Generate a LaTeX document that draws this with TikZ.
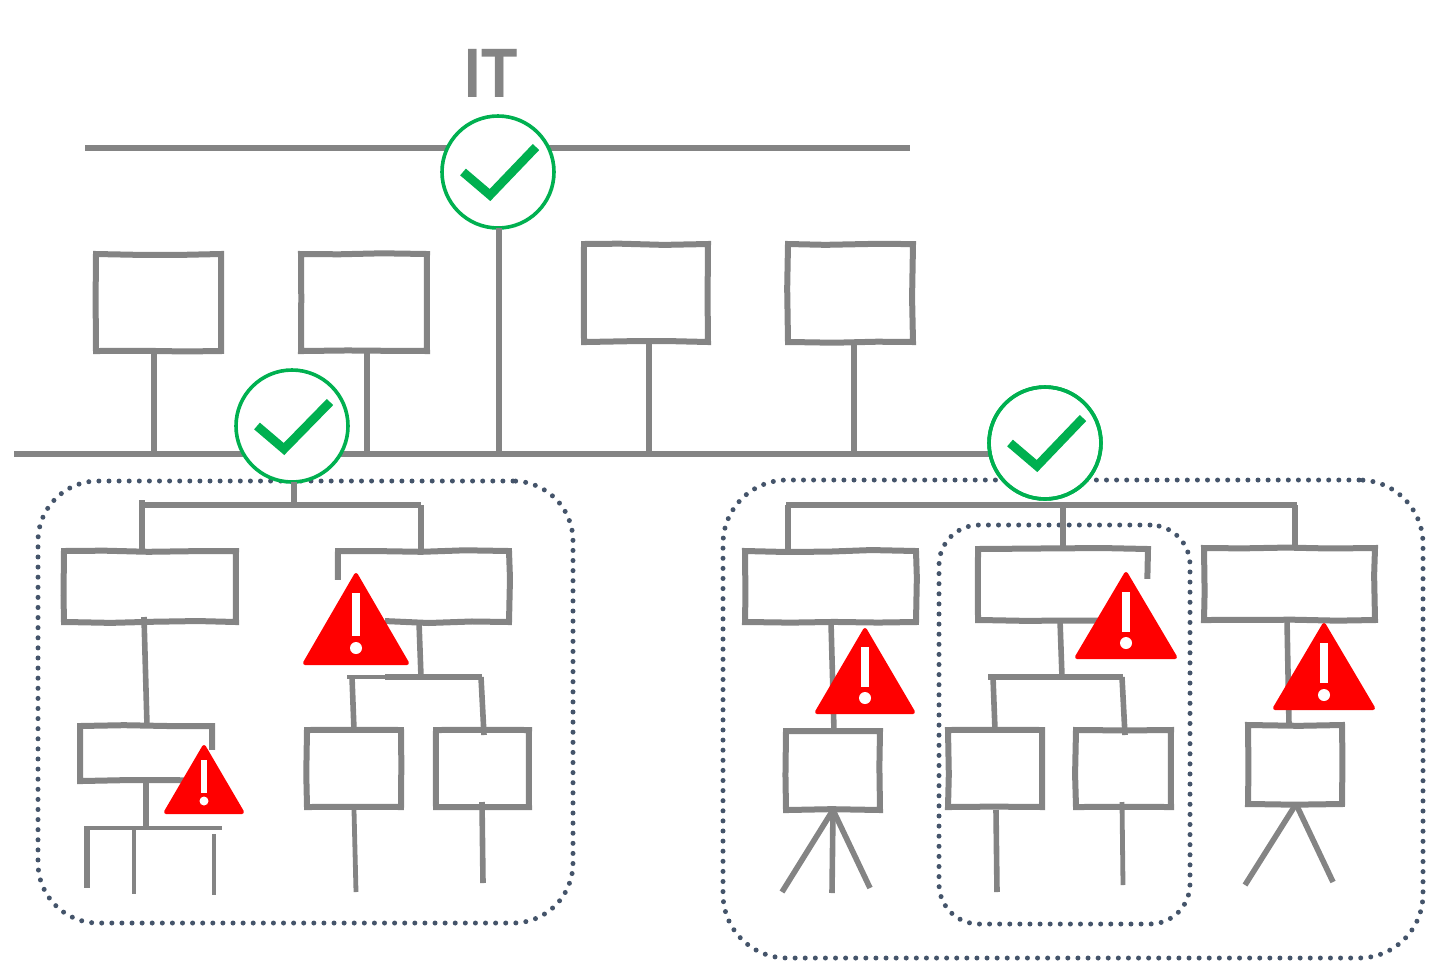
\documentclass[tikz,border=0pt]{standalone}
\usepackage{fontspec}
\setmainfont{Liberation Sans}
\usetikzlibrary{decorations.pathmorphing}
\definecolor{wiregray}{HTML}{848484}
\definecolor{okgreen}{HTML}{00B050}
\definecolor{dotblue}{HTML}{44546A}
\tikzset{
  wire/.style={draw=wiregray,line width=2.8pt},
  thinwire/.style={draw=wiregray,line width=2.4pt},
  thickwire/.style={draw=wiregray,line width=3.4pt},
  boxn/.style={draw=wiregray,line width=3pt,fill=white,inner sep=0pt,outer sep=0pt,
    decorate,decoration={random steps,segment length=22pt,amplitude=0.5pt,pre length=1pt,post length=1pt}},
  dotbox/.style={draw=dotblue,line width=2.5pt,dash pattern=on 0pt off 5.05pt,line cap=round,inner sep=0pt,outer sep=0pt},
  okcirc/.style={circle,draw=okgreen,fill=white,line width=1.8pt,minimum size=56pt,inner sep=0pt,outer sep=0pt},
  okmark/.style={draw=okgreen,line width=4.4pt,line join=miter},
  warnfill/.style={fill=red,draw=red,line width=2pt,line join=round},
  patch/.style={fill=white,draw=none}
}
\newcommand{\hbx}[5]{\node[boxn,minimum width={(#4-#2)*0.5pt},minimum height={(#5-#3)*0.5pt}] (#1) at ({(#2+#4)/2},{(#3+#5)/2}) {};}
\newcommand{\dbx}[6]{\node[dotbox,rounded corners=#6pt,minimum width={(#4-#2)*0.5pt},minimum height={(#5-#3)*0.5pt}] (#1) at ({(#2+#4)/2},{(#3+#5)/2}) {};}
% apex x, apex y, half base, base y, bar top, bar bottom, dot y, bar half width, dot radius
\newcommand{\warnsign}[9]{%
  \filldraw[warnfill] (#1,#2+3) -- (#1+#3-2,#4-2) -- (#1-#3+2,#4-2) -- cycle;
  \fill[white] (#1-#8,#5) rectangle (#1+#8,#6);
  \fill[white] (#1,#7) circle (#9);
}
\begin{document}
\begin{tikzpicture}[x=0.5pt,y=-0.5pt]
\pgfmathsetseed{7}
\useasboundingbox (0,0) rectangle (1440,960);
% IT label
\node[text=wiregray,font=\bfseries\fontsize{35}{35}\selectfont,xscale=0.85,inner sep=0pt] (it) at (491,73) {IT};
% buses
\coordinate (tl) at (85,148); \coordinate (tr) at (910,148);
\coordinate (bl) at (14,454); \coordinate (br) at (1000,454);
\draw[wire] (tl) -- (tr);
\draw[wire] (bl) -- (br);
% upper boxes
\hbx{A}{96}{254}{221}{351}
\hbx{B}{301}{254}{427}{351}
\hbx{C}{584}{244}{708}{342}
\hbx{D}{788}{244}{913}{342}
\coordinate (ja) at (154,454); \coordinate (jb) at (367,454);
\coordinate (jc) at (649,454); \coordinate (jd) at (854,454);
\draw[wire] (A.south -| ja) -- (ja);
\draw[wire] (B.south -| jb) -- (jb);
\draw[wire] (C.south -| jc) -- (jc);
\draw[wire] (D.south -| jd) -- (jd);
% dotted groups
\dbx{G1}{38}{481}{573}{923}{30}
\dbx{G2}{723}{480}{1423}{958}{32}
\dbx{G3}{939}{525}{1190}{924}{20}
% circles
\node[okcirc] (c1) at (498,172) {};
\node[okcirc] (c2) at (292,426) {};
\node[okcirc] (c3) at (1045,443) {};
\coordinate (cs) at (499,454);
\draw[wire] (c1.south -| cs) -- (cs);
% left group
\coordinate (l1) at (142,505); \coordinate (l2) at (421,505); \coordinate (l0) at (294,505);
\draw[wire] (c2.south -| l0) -- (l0);
\draw[thickwire] ([xshift=-1pt]l1) -- (l2);
\hbx{E}{64}{551}{236}{622}
\hbx{F}{338}{551}{509}{622}
\coordinate (l1t) at (142,500);
\draw[wire] (l1t) -- (l1t |- E.north);
\draw[wire] (l2) -- (l2 |- F.north);
\coordinate (e1) at (144,617); \coordinate (e2) at (147,726);
\hbx{Gb}{80}{726}{212}{781}
\draw[wire] (e1) -- (e2);
\coordinate (g1) at (146,781); \coordinate (g2) at (146,828);
\draw[wire] (g1) -- (g2);
\coordinate (gl) at (84,828); \coordinate (gr) at (222,828);
\draw[thinwire] (gl) -- (gr);
\coordinate (g3) at (87,888); \coordinate (g4) at (134,894); \coordinate (g5a) at (214,834); \coordinate (g5) at (214,895);
\draw[wire] (gl -| g3) -- (g3);
\draw[thinwire] (gl -| g4) -- (g4);
\draw[thinwire] (g5a) -- (g5);
\coordinate (f1) at (419,622); \coordinate (f2) at (421,677);
\draw[wire] (f1) -- (f2);
\coordinate (fl) at (347,677); \coordinate (fm) at (385,677); \coordinate (fr) at (482,677);
\coordinate (h1) at (352,677); \coordinate (h2) at (354,730);
\coordinate (i1) at (481,677); \coordinate (i2) at (484,735);
\hbx{H}{307}{730}{401}{807}
\hbx{I}{436}{730}{529}{807}
\draw[wire] (h1) -- (h2);
\draw[wire] (i1) -- (i2);
\coordinate (h3) at (354,810); \coordinate (h4) at (356,892);
\coordinate (i3) at (482,802); \coordinate (i4) at (483,883);
\draw[thinwire] (h3) -- (h4);
\draw[wire] (i3) -- (i4);
% right group
\coordinate (r1) at (788,505); \coordinate (r2) at (1063,505); \coordinate (r3) at (1295,505);
\draw[thickwire] ([xshift=-1pt]r1) -- ([xshift=1pt]r3);
\hbx{J}{745}{551}{916}{622}
\hbx{K}{978}{549}{1148}{620}
\hbx{L}{1204}{548}{1375}{620}
\draw[wire] (r1) -- (r1 |- J.north);
\draw[wire] (r2) -- (r2 |- K.north);
\draw[wire] (r3) -- (r3 |- L.north);
\hbx{O}{786}{731}{880}{810}
\coordinate (j1) at (831,622); \coordinate (j2) at (834,731);
\draw[wire] (j1) -- (j2);
\coordinate (o0) at (833,810); \coordinate (o1) at (782,892); \coordinate (o2) at (832,893); \coordinate (o3) at (870,888);
\draw[wire] (o0) -- (o1); \draw[wire] (o0) -- (o2); \draw[wire] (o0) -- (o3);
\coordinate (k1) at (1060,620); \coordinate (k2) at (1062,677);
\draw[wire] (k1) -- (k2);
\coordinate (kl) at (988,677); \coordinate (kr) at (1123,677);
\hbx{M}{948}{730}{1042}{807}
\hbx{N}{1076}{730}{1171}{807}
\coordinate (m1) at (993,677); \coordinate (m2) at (995,730);
\coordinate (n1) at (1122,677); \coordinate (n2) at (1125,735);
\draw[wire] (m1) -- (m2); \draw[wire] (n1) -- (n2);
\coordinate (m3) at (996,810); \coordinate (m4) at (997,892);
\coordinate (n3) at (1122,802); \coordinate (n4) at (1123,885);
\draw[wire] (m3) -- (m4); \draw[thinwire] (n3) -- (n4);
\hbx{P}{1248}{725}{1342}{804}
\coordinate (q1) at (1287,620); \coordinate (q2) at (1289,725);
\draw[wire] (q1) -- (q2);
\coordinate (p0) at (1296,804); \coordinate (p1) at (1245,885); \coordinate (p2) at (1333,882);
\draw[wire] (p0) -- (p1); \draw[wire] (p0) -- (p2);
% circle 3 stays in front of the bar
\node[okcirc,fill=none] (c3b) at (c3) {};
% checks
\draw[okmark] (463,172) -- (490,195) -- (536,147);
\draw[okmark] (257,426) -- (284,449) -- (330,402);
\draw[okmark] (1010,443) -- (1037,466) -- (1083,418);
% white ground of the warning signs
\fill[patch] (329,580) rectangle (385,673);
\fill[patch] (190,750) rectangle (220,800);
\fill[patch] (1095,579) rectangle (1153,615);
\draw[thinwire] (fl) -- (fm);
\draw[thickwire] (fm) -- (fr);
\draw[thickwire] (kl) -- (kr);
% warnings
\warnsign{356}{572}{53}{665}{593}{636}{648}{3.8}{6}
\warnsign{204}{744}{40}{814}{760}{793}{801}{3}{4.5}
\warnsign{865}{627}{50}{714}{647}{687}{698}{3.8}{6}
\warnsign{1126}{571}{51}{659}{592}{632}{643}{3.8}{6}
\warnsign{1324}{622}{51}{710}{643}{683}{695}{3.8}{6}
\end{tikzpicture}
\end{document}
